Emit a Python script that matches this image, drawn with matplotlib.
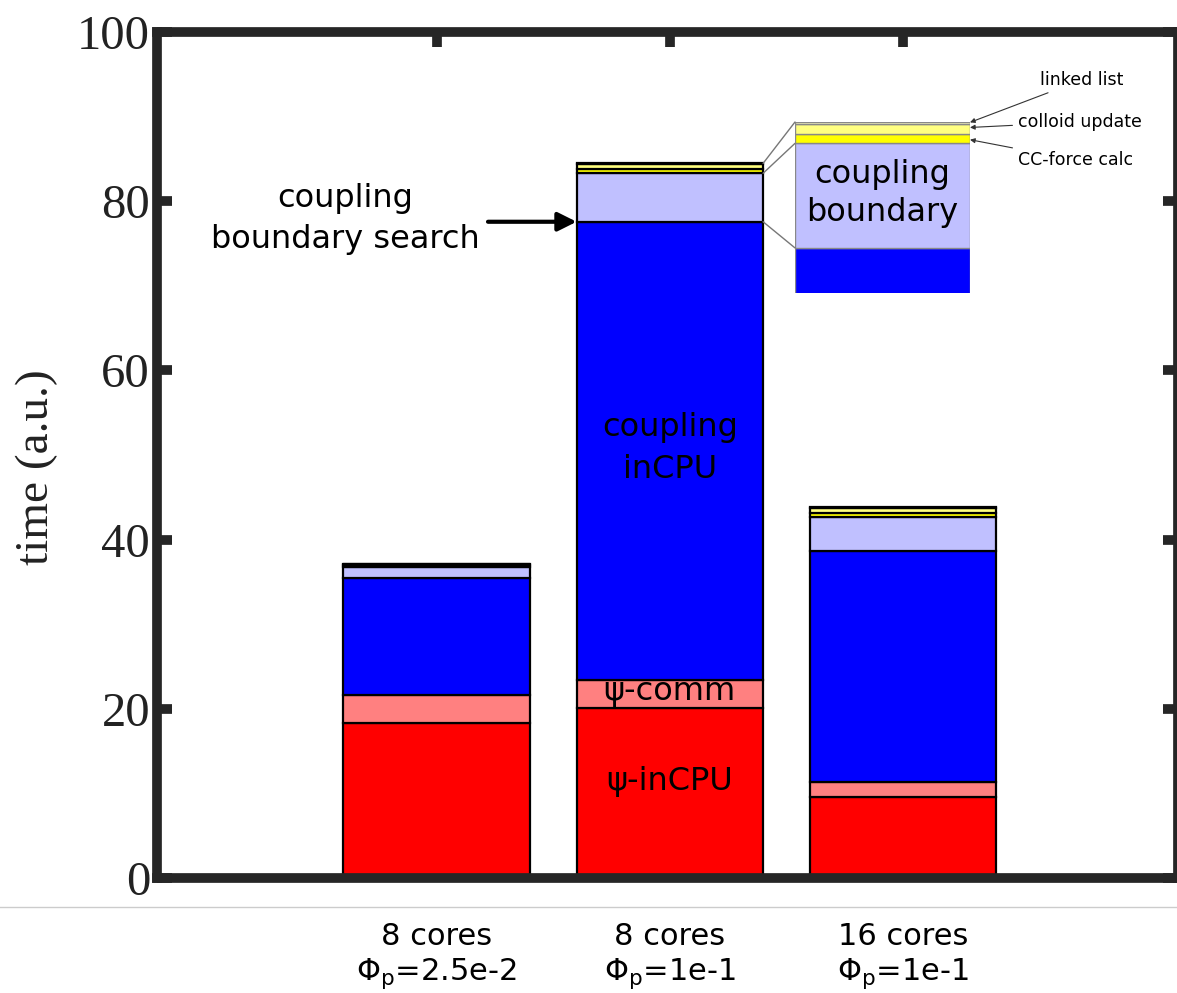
import matplotlib
matplotlib.use('Agg')
import matplotlib.pyplot as plt
from matplotlib.patches import ConnectionPatch
from matplotlib.lines import Line2D

plt.rcParams['mathtext.fontset'] = 'dejavusans'

# ---- data ----
categories = ['8 cores\n$\\Phi_\\mathrm{p}$=2.5e-2',
              '8 cores\n$\\Phi_\\mathrm{p}$=1e-1',
              '16 cores\n$\\Phi_\\mathrm{p}$=1e-1']
psi_incpu = [18.3, 20.05, 9.6]
psi_comm = [3.3, 3.35, 1.77]
coupling_incpu = [13.9, 54.17, 27.28]
coupling_boundary = [1.3, 5.73, 3.97]
cc_force = [0.15, 0.5, 0.5]
colloid_update = [0.15, 0.55, 0.6]
linked_list = [0.05, 0.12, 0.15]
yticks = [0, 20, 40, 60, 80, 100]

layers = [psi_incpu, psi_comm, coupling_incpu, coupling_boundary,
          cc_force, colloid_update, linked_list]
colors = ['#FF0000', '#FF8080', '#0000FF', '#C0C0FF',
          '#FFFF00', '#FFFF80', '#FFFFC0']

W, H = 1177, 993
fig = plt.figure(figsize=(W / 100, H / 100), dpi=100)
ax = fig.add_axes([157 / W, 1 - 878 / H, (1178 - 157) / W, (878 - 32) / H])

x = [1, 2, 3]
bottoms = [0.0, 0.0, 0.0]
for vals, c in zip(layers, colors):
    ax.bar(x, vals, width=0.8, bottom=bottoms, color=c,
           edgecolor='black', linewidth=1.6, zorder=2)
    bottoms = [b + v for b, v in zip(bottoms, vals)]

ax.set_xlim(-0.2, 4.18)
ax.set_ylim(0, 100)
ax.set_yticks(yticks)
ax.set_xticks(x)
ax.set_xticklabels(categories, fontsize=22, family='DejaVu Sans',
                   linespacing=1.2)
spine_c = '#262626'
for s in ax.spines.values():
    s.set_linewidth(7)
    s.set_color(spine_c)
ax.tick_params(axis='both', direction='in', length=11, width=7,
               color=spine_c, top=True, right=True)
ax.tick_params(axis='y', labelsize=35, pad=5)
ax.tick_params(axis='x', pad=32)
for lab in ax.get_yticklabels():
    lab.set_family('Liberation Serif')
    lab.set_color('#222222')
ax.set_ylabel('time (a.u.)', fontsize=34, family='Liberation Serif',
              color='#222222')
ax.yaxis.set_label_coords(-0.097, 0.486)

# labels inside bars
ax.text(2, 50.8, 'coupling\ninCPU', ha='center', va='center', fontsize=23,
        linespacing=1.45, zorder=3)
ax.text(2, 22.0, 'ψ-comm', ha='center', va='center', fontsize=23, zorder=3)
ax.text(2, 11.4, 'ψ-inCPU', ha='center', va='center', fontsize=23, zorder=3)

# coupling boundary search annotation
top_blue_2 = psi_incpu[1] + psi_comm[1] + coupling_incpu[1]
ax.text(0.607, 77.9, 'coupling\nboundary search', ha='center', va='center',
        fontsize=23, linespacing=1.38)
ax.annotate('', xy=(1.6, top_blue_2), xytext=(1.22, top_blue_2),
            arrowprops=dict(arrowstyle='-|>', color='black', lw=3,
                            mutation_scale=28, shrinkA=0, shrinkB=0))

# inset
iax = fig.add_axes([795 / W, 1 - 293 / H, 175 / W, (293 - 122) / H])
b = 0.0
for vals, c in zip(layers, colors):
    iax.bar([0], [vals[1]], width=1.0, bottom=[b], color=c,
            edgecolor='#888888', linewidth=1.0)
    b += vals[1]
total2 = b
iax.set_xlim(-0.5, 0.5)
iax.set_ylim(75.1, total2)
iax.axis('off')
lb_top = top_blue_2 + coupling_boundary[1]
iax.text(0, 80.55, 'coupling\nboundary', ha='center', va='center',
         fontsize=23, linespacing=1.3)

for yv in [total2, lb_top, top_blue_2]:
    con = ConnectionPatch(xyA=(2.4, yv), coordsA=ax.transData,
                          xyB=(-0.5, yv), coordsB=iax.transData,
                          color='#777777', lw=1.0)
    fig.add_artist(con)

# small labels
small = [('linked list', 1040, 80, total2 - 0.02),
         ('colloid update', 1018, 122, total2 - 0.3),
         ('CC-force calc', 1018, 160, lb_top + 0.2)]
for txt, px, py, yv in small:
    iax.annotate(txt, xy=(0.5, yv), xycoords='data',
                 xytext=(px / W, 1 - py / H), textcoords='figure fraction',
                 ha='left', va='center', fontsize=12.5,
                 arrowprops=dict(arrowstyle='-|>', color='#333333', lw=0.8,
                                 mutation_scale=7, shrinkA=2, shrinkB=0))

# separator line
fig.add_artist(Line2D([0, 1], [1 - 907 / H, 1 - 907 / H],
                      transform=fig.transFigure, color='#cccccc', lw=1))

fig.savefig('out.png', dpi=100)
